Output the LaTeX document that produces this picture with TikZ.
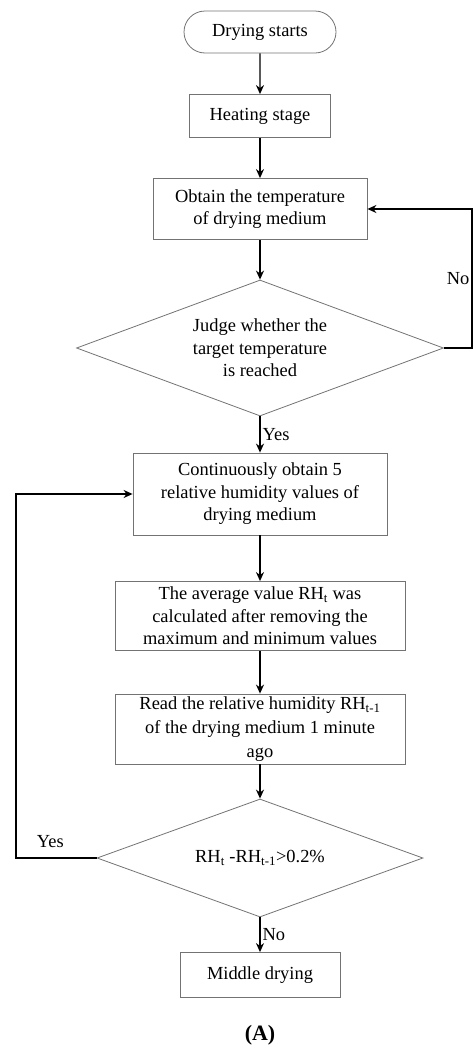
\documentclass[tikz,border=0pt]{standalone}
\usepackage{fontspec}
\setmainfont{Liberation Serif}
\usetikzlibrary{shapes.geometric,shapes.misc,arrows.meta}
\tikzset{
	box/.style={draw=black!55, line width=0.8bp, inner sep=0pt, align=center,
		font=\fontsize{18.5}{22.5}\selectfont},
	term/.style={box, rounded rectangle},
	decision/.style={box, diamond, aspect=2.7},
	arr/.style={-{Stealth[length=9bp,width=8bp]}, line width=1.3bp},
	lbl/.style={inner sep=2bp, font=\fontsize{18.5}{22}\selectfont}
}
\begin{document}
\begin{tikzpicture}[x=1bp, y=-1bp]
				\useasboundingbox (0, 0) rectangle (473, 1047);
				\coordinate (rightLoop) at (472, 0);
				\coordinate (leftLoop) at (16, 0);

				\node[term, minimum width=152bp, minimum height=42bp] (start) at (260, 32) {Drying starts};
				\node[box, minimum width=141bp, minimum height=43bp] (heat) at (260, 116) {Heating stage};
				\node[box, minimum width=214bp, minimum height=61bp] (obtain) at (260, 209) {Obtain the temperature\\of drying medium};
				\node[decision, minimum width=367bp, minimum height=136bp] (judge) at (260, 348) {Judge whether the\\target temperature\\is reached};
				\node[box, minimum width=254bp, minimum height=82bp] (cont) at (260, 494) {Continuously obtain 5\\relative humidity values of\\drying medium};
				\node[box, minimum width=290bp, minimum height=69bp] (avg) at (260, 616) {The average value RH\textsubscript{t} was\\calculated after removing the\\maximum and minimum values};
				\node[box, minimum width=290bp, minimum height=70bp, font=\fontsize{18.5}{24}\selectfont] (read) at (260, 729) {Read the relative humidity RH\textsubscript{t-1}\\of the drying medium 1 minute\\ago};
				\node[decision, minimum width=326bp, minimum height=118bp] (check) at (260, 858) {RH\textsubscript{t} -RH\textsubscript{t-1}>0.2\%};
				\node[box, minimum width=160bp, minimum height=45bp] (mid) at (260, 975) {Middle drying};
				\node[lbl, font=\bfseries\fontsize{22}{24}\selectfont] (cap) at (260, 1035) {(A)};

				\draw[arr] (start) -- (heat);
				\draw[arr] (heat) -- (obtain);
				\draw[arr] (obtain) -- (judge);
				\draw[arr] (judge) -- node[lbl, right] {Yes} (cont);
				\draw[arr] (judge.east) -- (judge.east -| rightLoop) |- node[lbl, pos=0.25, left] {No} (obtain.east);
				\draw[arr] (cont) -- (avg);
				\draw[arr] (avg) -- (read);
				\draw[arr] (read) -- (check);
				\draw[arr] (check.west) -- node[lbl, above=8bp, xshift=-6bp] {Yes} (check.west -| leftLoop) |- (cont.west);
				\draw[arr] (check) -- node[lbl, right] {No} (mid);
			\end{tikzpicture}
\end{document}
